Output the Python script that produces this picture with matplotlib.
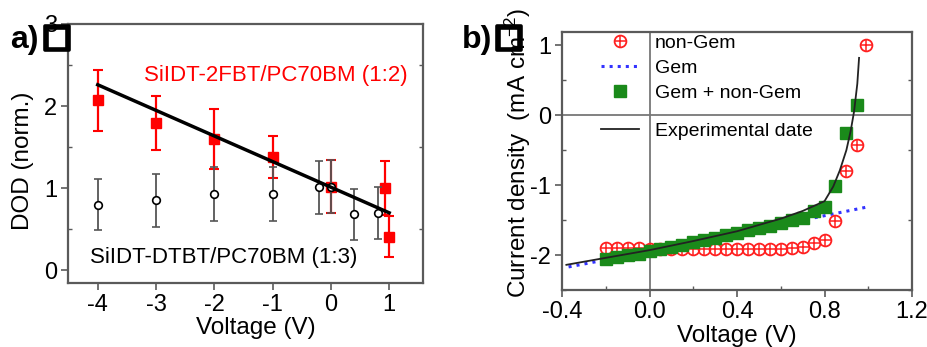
import matplotlib
matplotlib.use("Agg")
import matplotlib.pyplot as plt
import matplotlib.patheffects as pe
from matplotlib.legend_handler import HandlerTuple
from matplotlib.ticker import MultipleLocator

plt.rcParams["font.family"] = ["Liberation Sans", "DejaVu Sans"]
plt.rcParams["axes.unicode_minus"] = False
plt.rcParams["mathtext.fontset"] = "custom"
plt.rcParams["mathtext.rm"] = "Liberation Sans"
plt.rcParams["mathtext.it"] = "Liberation Sans:italic"

# --- panel a: DOD vs voltage ---
v_2fbt = [-4, -3, -2, -1, 0, 0.93, 1.0]
dod_2fbt = [2.07, 1.79, 1.60, 1.38, 1.02, 1.00, 0.41]
err_2fbt = [0.37, 0.33, 0.37, 0.26, 0.32, 0.33, 0.25]
v_dtbt = [-4, -3, -2, -1, -0.2, 0, 0.4, 0.8]
dod_dtbt = [0.80, 0.85, 0.93, 0.93, 1.01, 1.02, 0.68, 0.70]
err_dtbt = [0.31, 0.32, 0.33, 0.33, 0.32, 0.32, 0.31, 0.32]
fit_v = [-4, 1]
fit_dod = [2.26, 0.70]

# --- panel b: J-V curves ---
v_nongem = [-0.2, -0.15, -0.1, -0.05, 0.0, 0.05, 0.1, 0.15, 0.2, 0.25, 0.3,
            0.35, 0.4, 0.45, 0.5, 0.55, 0.6, 0.65, 0.7, 0.75, 0.8, 0.85,
            0.9, 0.95, 0.99]
j_nongem = [-1.90, -1.90, -1.90, -1.90, -1.91, -1.91, -1.91, -1.91, -1.91,
            -1.91, -1.91, -1.91, -1.91, -1.91, -1.91, -1.91, -1.91, -1.90,
            -1.88, -1.83, -1.79, -1.52, -0.80, -0.43, 1.01]
v_both = [-0.2, -0.15, -0.1, -0.05, 0.0, 0.05, 0.1, 0.15, 0.2, 0.25, 0.3,
          0.35, 0.4, 0.45, 0.5, 0.55, 0.6, 0.65, 0.7, 0.75, 0.8, 0.85,
          0.9, 0.95]
j_both = [-2.06, -2.03, -2.00, -1.98, -1.94, -1.91, -1.88, -1.85, -1.81,
          -1.79, -1.75, -1.71, -1.68, -1.64, -1.61, -1.58, -1.54, -1.50,
          -1.47, -1.37, -1.31, -1.01, -0.25, 0.14]
v_gem = [-0.37, 0.0, 0.4, 0.67, 1.0]
j_gem = [-2.17, -1.95, -1.72, -1.52, -1.31]
v_exp = [-0.38, -0.2, 0.0, 0.2, 0.4, 0.6, 0.7, 0.8, 0.84, 0.87, 0.90,
         0.92, 0.935, 0.95, 0.958]
j_exp = [-2.14, -2.04, -1.93, -1.80, -1.66, -1.48, -1.37, -1.23, -1.02,
         -0.79, -0.50, -0.22, 0.05, 0.45, 0.82]

SPINE = "#5a5a5a"
W, H = 928, 347


def style_axes(ax):
    for s in ax.spines.values():
        s.set_color(SPINE)
        s.set_linewidth(1.6)
    ax.tick_params(which="major", direction="out", length=5, width=1.2,
                   color=SPINE, labelsize=17, pad=3)
    ax.tick_params(which="minor", direction="in", length=3, width=1,
                   color=SPINE, right=True)


def panel_tag(x, y, letter, box_x):
    fig.text(x / W, 1 - y / H, letter + ")", fontsize=23, fontweight="bold",
             ha="left", va="center", zorder=10)
    fig.text(box_x / W, 1 - (y - 2) / H, "\u25a1", fontsize=23,
             family="DejaVu Sans", ha="center", va="center", zorder=10,
             path_effects=[pe.withStroke(linewidth=2.6, foreground="black")])


fig = plt.figure(figsize=(W / 100, H / 100), dpi=100)

# ---------------- panel a ----------------
ax = fig.add_axes([68 / W, 1 - 283 / H, (423 - 68) / W, (283 - 24) / H])
ax.errorbar(v_dtbt, dod_dtbt, yerr=err_dtbt, fmt="o", color="#444444",
            ecolor="#555555", elinewidth=1.3, capsize=3, capthick=1.2,
            mfc="white", mec="black", ms=5.5, mew=1.2, zorder=3)
ax.errorbar(v_2fbt, dod_2fbt, yerr=err_2fbt, fmt="s", color="#ff0000",
            elinewidth=1.6, capsize=3.5, capthick=1.5, ms=6.5, zorder=2)
ax.plot(fit_v, fit_dod, color="black", lw=2.5, zorder=4)
ax.text(-3.21, 2.37, "SiIDT-2FBT/PC70BM (1:2)", color="#ff0000",
        fontsize=16, ha="left", va="center")
ax.text(-4.13, 0.16, "SiIDT-DTBT/PC70BM (1:3)", color="black",
        fontsize=16, ha="left", va="center")
ax.set_xlim(-4.51, 1.58)
ax.set_ylim(-0.155, 3.0)
ax.set_xticks([-4, -3, -2, -1, 0, 1])
ax.set_yticks([0, 1, 2, 3])
ax.yaxis.set_minor_locator(MultipleLocator(0.5))
style_axes(ax)
ax.set_xlabel("Voltage (V)", fontsize=17.5)
ax.set_ylabel("DOD (norm.)", fontsize=17.5)
ax.xaxis.set_label_coords(0.53, -0.13)
ax.yaxis.set_label_coords(-0.095, 0.47)
panel_tag(10, 40, "a", 57)

# ---------------- panel b ----------------
bx = fig.add_axes([562 / W, 1 - 290 / H, (912 - 562) / W, (290 - 32) / H])
bx.axhline(0, color="#777777", lw=1.3, zorder=1)
bx.axvline(0, color="#777777", lw=1.3, zorder=1)
h_circ, = bx.plot(v_nongem, j_nongem, "o", ls="none", mfc="none",
                  mec="#ff2020", ms=8.5, mew=1.3, zorder=3)
h_plus, = bx.plot(v_nongem, j_nongem, "+", ls="none", color="#ff2020",
                  ms=8.5, mew=1.1, zorder=3)
h_gem, = bx.plot(v_gem, j_gem, ls=":", color="#3333ff", lw=2.2, zorder=2)
h_both, = bx.plot(v_both, j_both, "s", ls="none", color="#1a8a1a",
                  ms=8, zorder=4)
h_exp, = bx.plot(v_exp, j_exp, color="#222222", lw=1.3, zorder=5)
leg_kw = dict(loc="upper left", frameon=False, fontsize=14,
              handlelength=2.0, handletextpad=0.8, borderpad=0.0,
              borderaxespad=0.0, labelspacing=0.38, numpoints=1)
leg1 = bx.legend([(h_circ, h_plus), h_gem, h_both],
                 ["non-Gem", "Gem", "Gem + non-Gem"],
                 handler_map={tuple: HandlerTuple(ndivide=1)},
                 bbox_to_anchor=(0.11, 0.99), **leg_kw)
bx.add_artist(leg1)
bx.legend([h_exp], ["Experimental date"], bbox_to_anchor=(0.11, 0.65),
          **leg_kw)
bx.set_xlim(-0.4, 1.2)
bx.set_ylim(-2.5, 1.19)
bx.set_xticks([-0.4, 0.0, 0.4, 0.8, 1.2])
bx.set_xticklabels(["-0.4", "0.0", "0.4", "0.8", "1.2"])
bx.set_yticks([-2, -1, 0, 1])
bx.xaxis.set_minor_locator(MultipleLocator(0.2))
bx.yaxis.set_minor_locator(MultipleLocator(0.5))
style_axes(bx)
bx.set_xlabel("Voltage (V)", fontsize=17.5)
bx.set_ylabel("Current density  (mA cm$^{-2}$)", fontsize=17.5)
bx.xaxis.set_label_coords(0.5, -0.135)
bx.yaxis.set_label_coords(-0.083, 0.53)
panel_tag(462, 40, "b", 509)

fig.savefig("out.png", dpi=100)
